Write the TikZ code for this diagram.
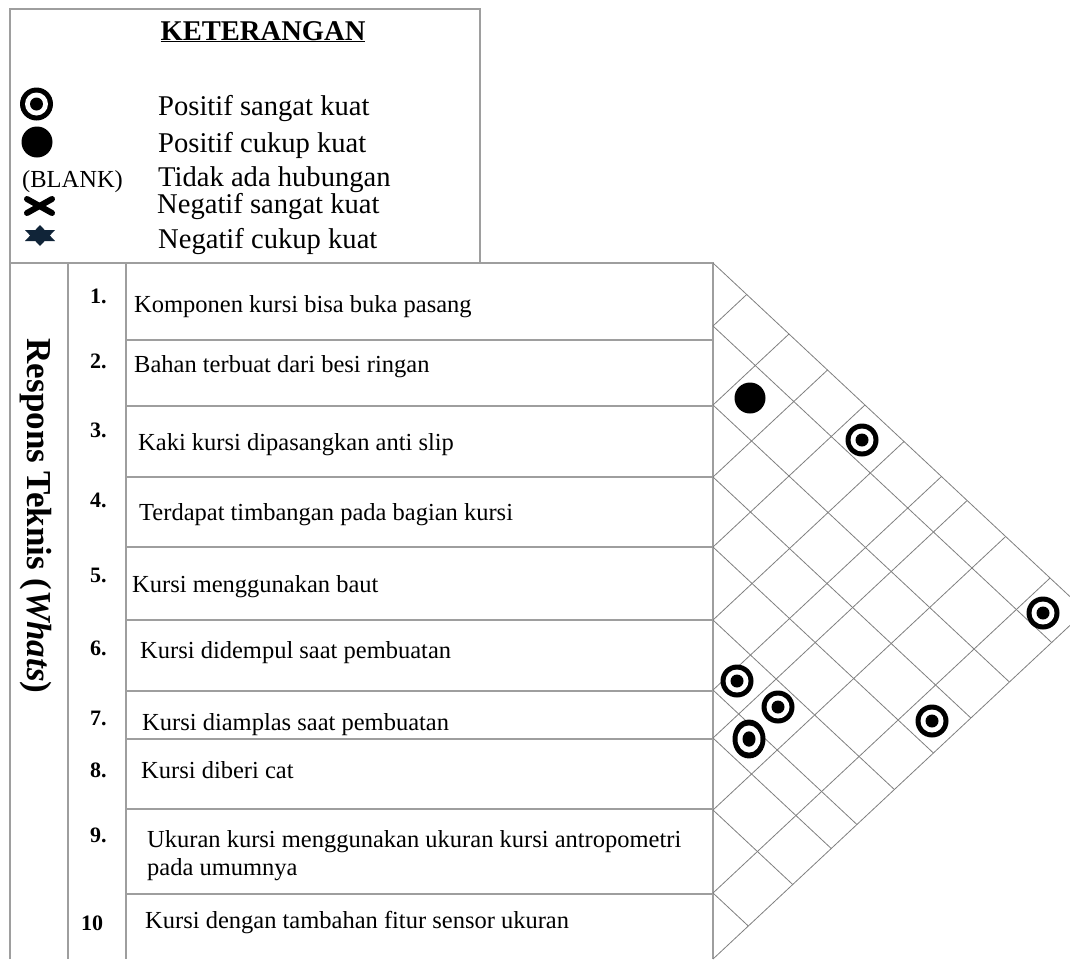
\documentclass[tikz,border=0pt]{standalone}
\usepackage{fontspec}
\setmainfont{Liberation Serif}
\usepackage{tikz}

\tikzset{
  pics/sangat/.style={code={
    \fill[black] (0,0) circle (16.5pt);
    \fill[white] (0,0) circle (11.5pt);
    \fill[black] (0,0) circle (6.5pt);}},
  pics/cukup/.style={code={\fill[black] (0,0) circle (15.5pt);}}
}

\begin{document}
\begin{tikzpicture}[x=1pt,y=-1pt,
  frame/.style={draw=black!38, line width=1.3pt},
  roof/.style={draw=black!50, line width=0.8pt},
  ket/.style={anchor=base west, inner sep=0pt, font=\fontsize{28.6}{34}\selectfont},
  isi/.style={anchor=base west, inner sep=0pt, font=\fontsize{24.5}{29}\selectfont},
  nomor/.style={anchor=base west, inner sep=0pt, font=\fontsize{22}{26}\selectfont\bfseries}]
\useasboundingbox (0,0) rectangle (1070,959);
\fill[white] (0,0) rectangle (1070,959);

% legenda
\draw[frame] (10,959) -- (10,9) -- (480,9) -- (480,263);
\node[ket, anchor=base, font=\fontsize{28.6}{34}\selectfont\bfseries] (judul) at (263,40) {\underline{KETERANGAN}};
\pic (lg1) at (36.5,104) {sangat};
\pic (lg2) at (37,142) {cukup};
\draw[line width=6pt, line cap=round] (27,199) -- (52,213);
\draw[line width=6pt, line cap=round] (27,213) -- (52,199);
\fill[fill={rgb,255:red,16;green,36;blue,56}] (40,225) -- (25,241) -- (55,241) -- cycle;
\fill[fill={rgb,255:red,16;green,36;blue,56}] (40,246) -- (25,230) -- (55,230) -- cycle;
\node[ket, font=\fontsize{24.5}{29}\selectfont] (blank) at (22,187) {(BLANK)};
\node[ket] (k1) at (158,115) {Positif sangat kuat};
\node[ket] (k2) at (158,152) {Positif cukup kuat};
\node[ket] (k3) at (158,186) {Tidak ada hubungan};
\node[ket] (k4) at (157,213) {Negatif sangat kuat};
\node[ket] (k5) at (158,248) {Negatif cukup kuat};

% tabel
\draw[frame] (10,263) -- (713,263) -- (713,959);
\draw[frame] (68,263) -- (68,959);
\draw[frame] (126,263) -- (126,959);
\foreach \y in {340,406,477,547,620,691,739,809,894}
  \draw[frame] (126,\y) -- (713,\y);

\node[rotate=-90, font=\fontsize{35}{40}\selectfont\bfseries] (whats) at (36,516) {Respons Teknis (\textit{Whats})};

\node[nomor] (n1) at (90,303) {1.};
\node[nomor] (n2) at (90,368) {2.};
\node[nomor] (n3) at (90,437) {3.};
\node[nomor] (n4) at (90,507) {4.};
\node[nomor] (n5) at (90,582) {5.};
\node[nomor] (n6) at (90,655) {6.};
\node[nomor] (n7) at (90,725) {7.};
\node[nomor] (n8) at (90,777) {8.};
\node[nomor] (n9) at (90,842) {9.};
\node[nomor] (n10) at (81,930) {10};

\node[isi] (r1) at (134,312) {Komponen kursi bisa buka pasang};
\node[isi] (r2) at (134,372) {Bahan terbuat dari besi ringan};
\node[isi] (r3) at (138,450) {Kaki kursi dipasangkan anti slip};
\node[isi] (r4) at (139,520) {Terdapat timbangan pada bagian kursi};
\node[isi] (r5) at (132,592) {Kursi menggunakan baut};
\node[isi] (r6) at (140,658) {Kursi didempul saat pembuatan};
\node[isi] (r7) at (142,730) {Kursi diamplas saat pembuatan};
\node[isi] (r8) at (141,778) {Kursi diberi cat};
\node[isi] (r9) at (147,847) {Ukuran kursi menggunakan ukuran kursi antropometri};
\node[isi] (r9b) at (147,875) {pada umumnya};
\node[isi] (r10) at (145,928) {Kursi dengan tambahan fitur sensor ukuran};

% atap korelasi
\foreach \g in {326,405,477,547,620,690,738,810,893} {
  \draw[roof] (713,\g) -- ({713+1.07*(959-\g)/2},{(959+\g)/2});
  \draw[roof] (713,\g) -- ({713+1.07*(\g-263)/2},{(263+\g)/2});
}
\draw[roof] (713,263) -- ({713+1.07*348},611) -- (713,959);

\pic (c23) at (750,398) {cukup};
\pic (c15) at (862,440) {sangat};
\pic (c110) at (1043,613) {sangat};
\pic (c67) at (737,681) {sangat};
\pic (c68) at (778,707) {sangat};
\pic[yscale=1.18] (c78) at (749,739) {sangat};
\pic (c410) at (932,721) {sangat};

\end{tikzpicture}
\end{document}
